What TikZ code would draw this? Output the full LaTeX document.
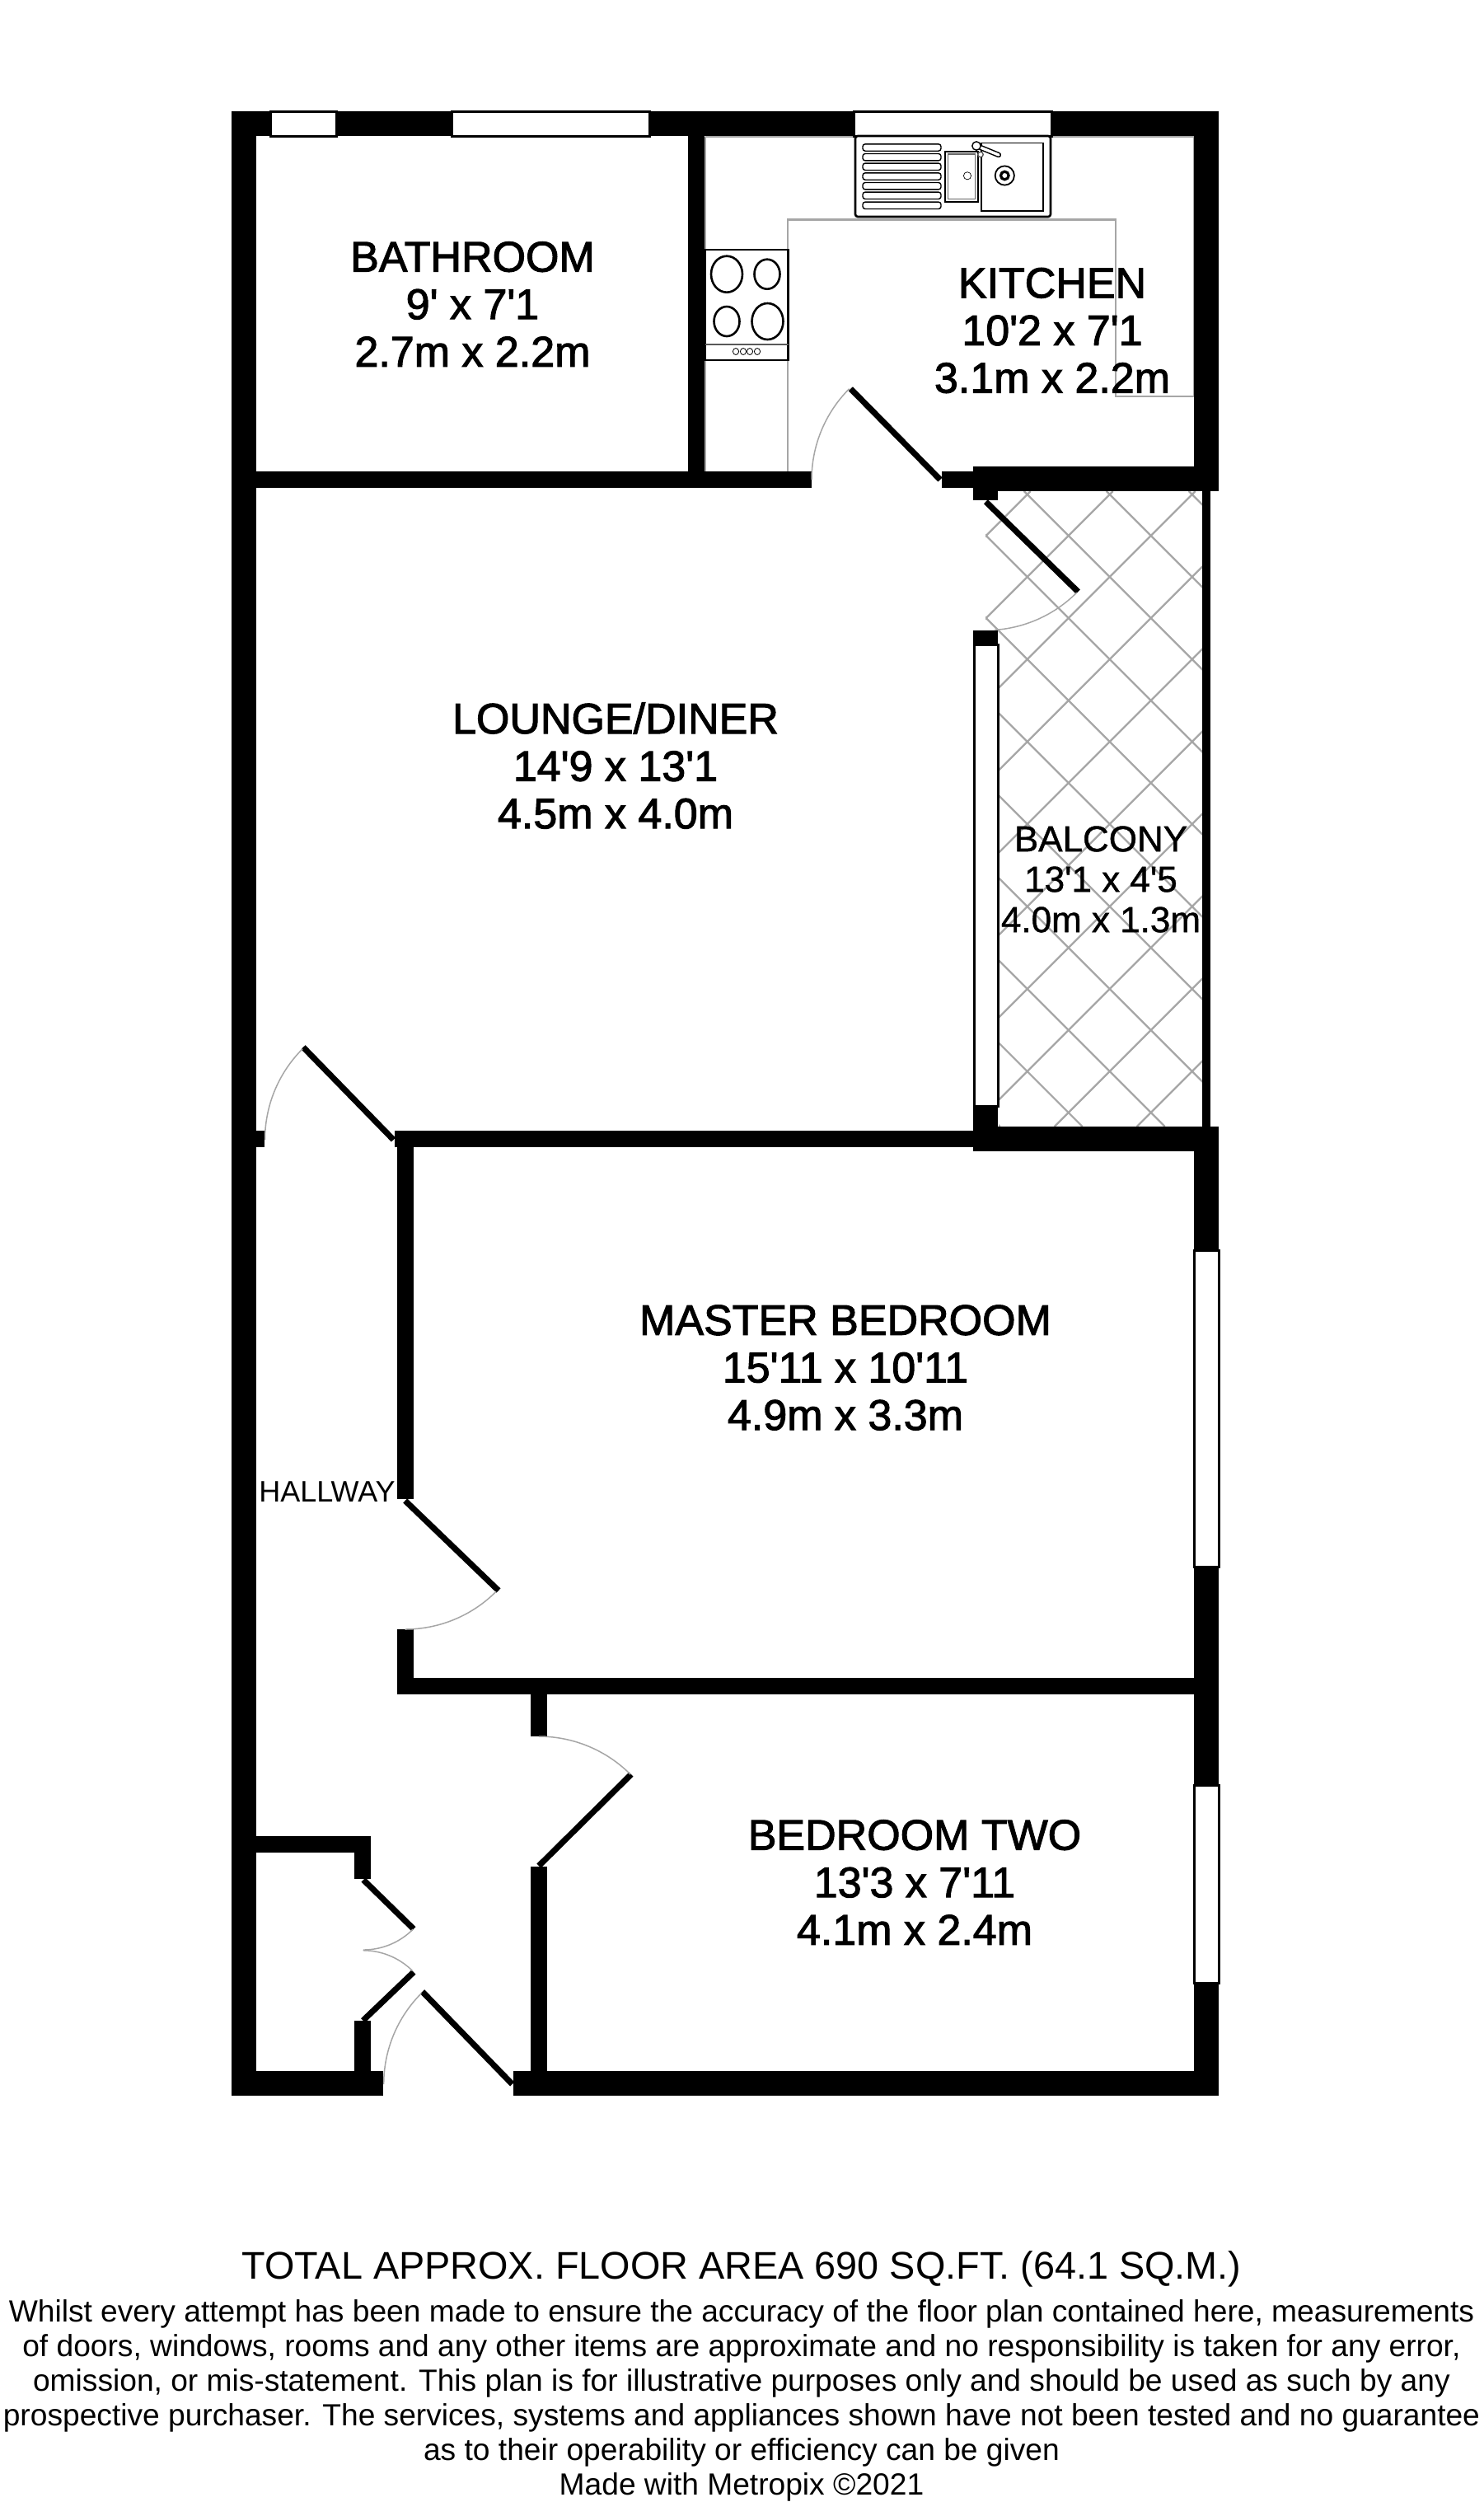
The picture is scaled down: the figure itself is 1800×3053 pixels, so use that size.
\documentclass[tikz,border=0pt]{standalone}
\usepackage{fontspec}
\newfontfamily\labelfont{Liberation Sans}
\newfontfamily\roomfont[FakeBold=2]{Liberation Sans}
\newfontfamily\smallroomfont[FakeBold=1]{Liberation Sans}
\newcommand{\doorarc}[5]{\draw[swing] plot[domain=#4:#5,samples=30] ({#1+#3*cos(\x)},{#2+#3*sin(\x)});}
\tikzset{
  wall/.style={fill=black},
  win/.style={fill=white,draw=black,line width=1.5pt},
  leaf/.style={draw=black,line width=3.6pt},
  swing/.style={draw=gray1,line width=0.75pt},
  worktop/.style={draw=gray1,line width=1.1pt},
  tile/.style={draw=gray1,line width=1.1pt},
  appl/.style={draw=black,line width=1.3pt},
  applthin/.style={draw=black,line width=0.7pt},
  room/.style={inner sep=0pt,align=center,font=\roomfont\fontsize{26}{28.8}\selectfont},
  smallroom/.style={inner sep=0pt,align=center,font=\smallroomfont\fontsize{22}{24.5}\selectfont},
  hall/.style={inner sep=0pt,font=\labelfont\fontsize{18}{20}\selectfont},
  foottitle/.style={inner sep=0pt,font=\labelfont\fontsize{23.4}{25}\selectfont},
  footbody/.style={inner sep=0pt,align=center,font=\labelfont\fontsize{18.58}{21}\selectfont}
}
\definecolor{gray1}{HTML}{A6A6A6}
\begin{document}
\begin{tikzpicture}[x=0.5pt,y=-0.5pt]
\useasboundingbox (0,0) rectangle (1800,3053);
% balcony tiles
\begin{scope}
\clip (1196,596) -- (1459.3,596) -- (1459.3,1367) -- (1212,1367) -- (1212,782) -- (1196,782) -- cycle;
\foreach \c in {-153.3,-53.3,46.7,146.7,246.7,346.7,446.7,546.7,646.7,746.7,846.7}
  \draw[tile] ({\c+596},596) -- ({\c+1367},1367);
\foreach \s in {1846.7,1946.7,2046.7,2146.7,2246.7,2346.7,2446.7,2546.7,2646.7,2746.7}
  \draw[tile] ({\s-596},596) -- ({\s-1367},1367);
\end{scope}
% kitchen worktop lines
\draw[worktop] (856,166) -- (1448.6,166);
\draw[worktop] (856,166) -- (856,572);
\draw[worktop] (956,572) -- (956,266.5) -- (1354,266.5) -- (1354,480.7) -- (1448.6,480.7);
\draw[worktop] (1448.6,166) -- (1448.6,480.7);
% walls
\fill[wall] (281,135) rectangle (311,2542.7);
\fill[wall] (281,135) rectangle (1478.7,165);
\fill[wall] (1448.6,135) rectangle (1478.7,596.3);
\fill[wall] (835,165) rectangle (855,572);
\fill[wall] (281,572) rectangle (985,591.7);
\fill[wall] (1142.7,572) rectangle (1181,591.5);
\fill[wall] (1181,566.4) rectangle (1478.7,596.3);
\fill[wall] (1181,596) rectangle (1210.7,606.6);
\fill[wall] (1181,765) rectangle (1210.7,782);
\fill[wall] (1181,1342) rectangle (1211,1397);
\fill[wall] (1181,1366.7) rectangle (1479,1396.7);
\fill[wall] (479,1372) rectangle (1181,1391.7);
\fill[wall] (311,1372) rectangle (321,1391.7);
\fill[wall] (1459.3,596) rectangle (1468.7,1367);
\fill[wall] (1449,1397) rectangle (1479,1517);
\fill[wall] (1449,1901.7) rectangle (1479,2166);
\fill[wall] (1449,2406) rectangle (1479,2542.7);
\fill[wall] (482,1391.7) rectangle (502,1818.7);
\fill[wall] (482,1976.7) rectangle (502,2055.7);
\fill[wall] (482,2036) rectangle (1449,2055.7);
\fill[wall] (644,2055.7) rectangle (664,2106.7);
\fill[wall] (644,2265) rectangle (664,2513);
\fill[wall] (311,2228) rectangle (450,2248);
\fill[wall] (430,2248) rectangle (450,2280);
\fill[wall] (430,2451.7) rectangle (450,2513);
\fill[wall] (281,2513) rectangle (464.7,2542.7);
\fill[wall] (622.8,2513) rectangle (1479,2542.7);
% windows
\draw[win] (328,135.5) rectangle (408,165.5);
\draw[win] (548,135.5) rectangle (788,165.5);
\draw[win] (1036,135.5) rectangle (1276,165.5);
\draw[win] (1182.5,782) rectangle (1211.3,1342);
\draw[win] (1449.5,1517) rectangle (1479.5,1901.7);
\draw[win] (1449.5,2166) rectangle (1479.5,2406);
% door leaves
\draw[leaf] (1141,582) -- (1032.4,471.8);
\draw[leaf] (1196.4,608.8) -- (1308.3,718);
\draw[leaf] (477.5,1383) -- (368,1270.7);
\draw[leaf] (491.7,1821) -- (605,1930);
\draw[leaf] (654,2264) -- (766,2153);
\draw[leaf] (621.7,2529) -- (512.6,2416.7);
\draw[leaf] (441,2281) -- (502,2340.7);
\draw[leaf] (440.6,2451.7) -- (502,2393);
% door swings
\doorarc{1141}{582}{156}{180}{225}
\doorarc{1196.4}{608.8}{156}{45}{86}
\doorarc{477.5}{1383}{156}{180}{225}
\doorarc{491.7}{1821}{156}{45}{90}
\doorarc{654}{2264}{157}{-90}{-45}
\doorarc{621.7}{2529}{156}{180}{225}
\doorarc{441}{2281}{85}{45}{90}
\doorarc{440.6}{2451.7}{85}{-90}{-45}
% hob
\draw[appl,fill=white] (856,303) rectangle (956.5,437);
\draw[applthin,draw=gray!70!black] (856,418) -- (956.5,418);
\draw[appl] (882,332.7) ellipse [x radius=19,y radius=22];
\draw[appl] (931,332.7) ellipse [x radius=15.5,y radius=18];
\draw[appl] (882,390) ellipse [x radius=15.5,y radius=18];
\draw[appl] (931.5,390) ellipse [x radius=19,y radius=22];
\foreach \k in {893,902,910,919}
  \draw[applthin,line width=0.4pt] (\k,426.5) ellipse [x radius=3.6,y radius=4];
% sink
\draw[appl,fill=white,rounded corners=1.5pt] (1038,165) rectangle (1275,263);
\foreach \r in {179,190.7,202.3,214,225.7,237.3,249.3}
  \draw[applthin,rounded corners=1.5pt] (1047,{\r-4.2}) rectangle (1142,{\r+4.2});
\draw[applthin,line width=1pt] (1147,183.5) rectangle (1186.5,245);
\draw[applthin,draw=gray!80!black] (1150.5,187) rectangle (1183.5,241.5);
\draw[applthin,line width=0.35pt] (1174,213.3) circle [radius=4.6];
\draw[applthin,line width=0.9pt] (1190.7,173.5) rectangle (1266,256);
\draw[applthin,line width=0.9pt] (1219.3,213) circle [radius=11.6];
\draw[appl,line width=1.6pt] (1219.3,213) circle [radius=4.8];
\draw[line width=3.2pt,line cap=round,draw=black] (1190,179) -- (1212,188);
\draw[line width=1.7pt,line cap=round,draw=white] (1190,179) -- (1212,188);
\draw[applthin,fill=white] (1185,177) circle [radius=5.2];
\draw[applthin,draw=gray!70!black,fill=white] (1190,187.5) circle [radius=3.2];
% labels
\node[room] (bathroom) at (573.5,369) {BATHROOM\\9' x 7'1\\2.7m x 2.2m};
\node[room] (kitchen) at (1277,401) {KITCHEN\\10'2 x 7'1\\3.1m x 2.2m};
\node[room] (lounge) at (747,929) {LOUNGE/DINER\\14'9 x 13'1\\4.5m x 4.0m};
\node[smallroom] (balcony) at (1336,1067) {BALCONY\\13'1 x 4'5\\4.0m x 1.3m};
\node[room] (master) at (1026,1659.5) {MASTER BEDROOM\\15'11 x 10'11\\4.9m x 3.3m};
\node[hall] (hallway) at (397,1810) {HALLWAY};
\node[room] (bedtwo) at (1110,2284) {BEDROOM TWO\\13'3 x 7'11\\4.1m x 2.4m};
\node[foottitle] (total) at (900,2753) {TOTAL APPROX. FLOOR AREA 690 SQ.FT. (64.1 SQ.M.)};
\node[footbody] (disclaimer) at (900,2913) {Whilst every attempt has been made to ensure the accuracy of the floor plan contained here, measurements\\of doors, windows, rooms and any other items are approximate and no responsibility is taken for any error,\\omission, or mis-statement. This plan is for illustrative purposes only and should be used as such by any\\prospective purchaser. The services, systems and appliances shown have not been tested and no guarantee\\as to their operability or efficiency can be given\\Made with Metropix ©2021};
\end{tikzpicture}
\end{document}
